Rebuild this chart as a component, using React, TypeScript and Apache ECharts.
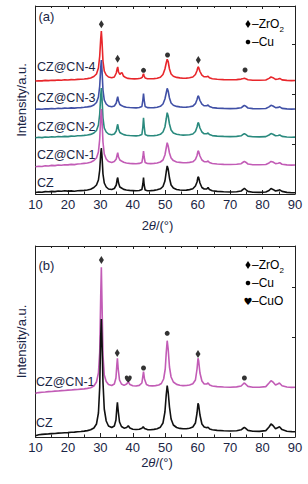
import React, { useEffect, useRef } from "react";
import * as echarts from "echarts";

// ---------- Panel (a) data: [2θ, intensity (a.u., offset stacked)] ----------
const czA: number[][] = [[10,1.5],[11,2],[12,1.8],[13,2.4],[14,2.2],[15,2.6],[16,2.4],[17,3],[18,2.8],[19,3.2],[20,2.9],[21,3.1],[22,2.8],[23,3.2],[24,3.4],[25,3.6],[26,4],[27,4.8],[28,6.5],[28.8,9],[29.4,14],[29.8,24],[30.1,40],[30.3,46],[30.5,38],[30.8,20],[31.2,11],[31.8,7],[32.5,5],[33.5,4.5],[34.3,5.5],[34.9,9],[35.2,15],[35.35,16.5],[35.6,11],[36,7],[36.5,6],[37.2,4.6],[38,4],[39,3.6],[40,3.4],[41,3.2],[42,3.5],[42.8,4.5],[43.1,10],[43.3,16.5],[43.5,9],[43.8,4],[44.5,3.3],[45.5,3.4],[46.5,3.6],[47.5,4.2],[48.5,5.2],[49.3,7.5],[49.9,13],[50.3,22],[50.6,28],[50.9,25],[51.3,16],[51.8,9],[52.5,6],[53.5,4.5],[54.5,4],[55.5,3.7],[56.5,3.9],[57.5,4.4],[58.5,5.2],[59.3,8],[59.8,12],[60.1,17],[60.3,16.5],[60.7,11],[61.3,6.5],[62,5],[62.8,5],[63.2,6.5],[63.6,4.5],[64.5,3.3],[66,2.6],[68,2.2],[70,2],[72,2.3],[73.4,3],[74.1,4.8],[74.4,5.8],[74.8,4.5],[75.5,2.6],[77,1.8],[79,1.6],[81,2],[82,3.5],[82.6,5.5],[83.2,4.6],[84,3],[84.8,3.6],[85.3,4.2],[86,2.6],[87.5,1.6],[89,1.3],[90,1.2]];
const cn1A: number[][] = [[10,27.3],[11,27.8],[12,27.5],[13,28.2],[14,28],[15,28.6],[16,28.4],[17,29],[18,28.8],[19,29.3],[20,29.1],[21,29.6],[22,29.4],[23,30],[24,30.2],[25,30.6],[26,31],[27,31.8],[28,33.5],[28.8,36],[29.4,42],[29.8,55],[30.1,76],[30.3,85],[30.5,74],[30.8,52],[31.2,40],[31.8,35],[32.5,32.5],[33.5,31.6],[34.3,32.4],[34.9,35],[35.2,39.5],[35.35,41.3],[35.6,37],[36,34],[36.5,33],[37.2,31.8],[38,31],[39,30.6],[40,30.4],[41,30.2],[42,30.6],[42.8,31.6],[43.1,37],[43.3,43],[43.5,37],[43.8,31.5],[44.5,30.5],[45.5,30.4],[46.5,30.6],[47.5,31],[48.5,32],[49.3,34],[49.9,39],[50.3,46],[50.6,51.3],[50.9,48],[51.3,41],[51.8,36],[52.5,33.4],[53.5,32],[54.5,31.6],[55.5,31.2],[56.5,31.3],[57.5,31.6],[58.5,32.2],[59.3,34.5],[59.8,38.5],[60.1,43],[60.3,42.5],[60.7,38],[61.3,34],[62,32.3],[62.8,32.2],[63.2,33],[63.6,31.5],[64.5,30.5],[66,30],[68,29.6],[70,29.5],[72,29.7],[73.4,30.3],[74.1,32],[74.4,32.6],[74.8,31.8],[75.5,30],[77,29.3],[79,29.2],[81,29.5],[82,31],[82.6,32.6],[83.2,32],[84,30.4],[84.8,30.8],[85.3,31.2],[86,29.8],[87.5,29.1],[89,28.9],[90,29]];
const cn2A: number[][] = [[10,56.3],[11,56.7],[12,56.4],[13,57],[14,56.8],[15,57.2],[16,57],[17,57.5],[18,57.3],[19,57.6],[20,57.4],[21,57.9],[22,57.7],[23,58.2],[24,58.3],[25,58.6],[26,59],[27,59.6],[28,61],[28.8,63.5],[29.4,69],[29.8,80],[30.1,98],[30.3,106],[30.5,96],[30.8,76],[31.2,66],[31.8,62],[32.5,60],[33.5,59.2],[34.3,60],[34.9,63],[35.2,68],[35.35,69.7],[35.6,65],[36,61.5],[36.5,60.5],[37.2,59.4],[38,58.8],[39,58.5],[40,58.3],[41,58.1],[42,58.5],[42.8,59.5],[43.1,67],[43.3,76.3],[43.5,68],[43.8,59.5],[44.5,58.4],[45.5,58.2],[46.5,58.4],[47.5,58.8],[48.5,59.7],[49.3,62],[49.9,67],[50.3,75],[50.6,81.3],[50.9,78],[51.3,70],[51.8,64],[52.5,61],[53.5,59.8],[54.5,59.2],[55.5,58.9],[56.5,59],[57.5,59.3],[58.5,60],[59.3,62.5],[59.8,67],[60.1,71.3],[60.3,70.8],[60.7,66],[61.3,62],[62,60.2],[62.8,60.2],[63.2,61],[63.6,59.4],[64.5,58.4],[66,57.9],[68,57.6],[70,57.4],[72,57.6],[73.4,58.2],[74.1,59.8],[74.4,60.4],[74.8,59.6],[75.5,57.9],[77,57.3],[79,57.1],[81,57.4],[82,59],[82.6,60.4],[83.2,59.8],[84,58.2],[84.8,58.5],[85.3,59],[86,57.6],[87.5,57],[89,56.8],[90,56.9]];
const cn3A: number[][] = [[10,84.7],[11,85],[12,84.8],[13,85.3],[14,85.1],[15,85.5],[16,85.3],[17,85.7],[18,85.5],[19,85.9],[20,85.7],[21,86.1],[22,85.9],[23,86.3],[24,86.4],[25,86.7],[26,87.1],[27,87.6],[28,89],[28.8,91.5],[29.4,97],[29.8,108],[30.1,126],[30.3,134],[30.5,124],[30.8,104],[31.2,94],[31.8,90],[32.5,88],[33.5,87.2],[34.3,88],[34.9,91],[35.2,95.5],[35.35,97.3],[35.6,93],[36,89.5],[36.5,88.5],[37.2,87.4],[38,86.8],[39,86.5],[40,86.3],[41,86.1],[42,86.5],[42.8,87.5],[43.1,94],[43.3,100.3],[43.5,94],[43.8,87.5],[44.5,86.4],[45.5,86.2],[46.5,86.4],[47.5,86.8],[48.5,87.7],[49.3,90],[49.9,95],[50.3,101],[50.6,105.7],[50.9,103],[51.3,96],[51.8,91],[52.5,88.8],[53.5,87.6],[54.5,87.1],[55.5,86.8],[56.5,86.9],[57.5,87.2],[58.5,87.9],[59.3,90.3],[59.8,94.5],[60.1,98],[60.3,97.5],[60.7,93.5],[61.3,89.8],[62,88.2],[62.8,88.2],[63.2,89],[63.6,87.4],[64.5,86.4],[66,85.9],[68,85.6],[70,85.4],[72,85.6],[73.4,86.2],[74.1,88],[74.4,88.7],[74.8,87.8],[75.5,86],[77,85.4],[79,85.2],[81,85.5],[82,87.1],[82.6,88.7],[83.2,88],[84,86.3],[84.8,86.6],[85.3,87.2],[86,85.6],[87.5,85.1],[89,84.9],[90,85]];
const cn4A: number[][] = [[10,113],[11,113.3],[12,113.1],[13,113.6],[14,113.4],[15,113.8],[16,113.6],[17,114],[18,113.8],[19,114.2],[20,114],[21,114.4],[22,114.2],[23,114.6],[24,114.7],[25,115],[26,115.4],[27,116],[28,117.5],[28.8,120],[29.4,126],[29.8,138],[30.1,155],[30.3,163],[30.5,153],[30.8,133],[31.2,123],[31.8,119],[32.5,117],[33.5,116.2],[34.3,117],[34.9,121],[35.2,125.5],[35.35,127],[35.6,122],[36,119.5],[36.4,121],[36.7,121.3],[37.1,118],[37.8,116.4],[38.5,115.6],[39.5,115.3],[40.5,115.1],[41.5,115.2],[42.4,115.7],[42.9,116.6],[43.15,119],[43.3,120.3],[43.5,118],[43.8,116],[44.5,115.3],[45.5,115.2],[46.5,115.4],[47.5,115.8],[48.5,116.8],[49.3,119.5],[49.9,125],[50.3,131],[50.6,134.7],[50.9,132.5],[51.3,125],[51.8,120],[52.5,117.8],[53.5,116.6],[54.5,116.1],[55.5,115.8],[56.5,115.9],[57.5,116.2],[58.5,117],[59.3,119.5],[59.8,123.5],[60.1,127],[60.3,126.5],[60.7,122.5],[61.3,118.8],[62,117.2],[62.8,117.2],[63.2,117.8],[63.6,116.3],[64.5,115.3],[66,114.7],[68,114.4],[70,114.2],[72,114.4],[73.4,114.9],[74.1,115.5],[74.4,115.8],[74.8,115.3],[75.5,114.3],[77,113.8],[79,113.7],[81,114],[82,115.6],[82.6,117],[83.2,116.3],[84,114.6],[84.8,115],[85.3,115.6],[86,114.1],[87.5,113.6],[89,113.4],[90,113.5]];

// ---------- Panel (b) data ----------
const czB: number[][] = [[10,1.2],[10.5,1.8],[11,2.2],[12,2.6],[13,2.9],[14,3.1],[15,3.4],[16,3.5],[17,3.9],[18,4],[19,4.3],[20,4.4],[21,4.8],[22,4.9],[23,5.3],[24,5.5],[25,5.9],[26,6.4],[27,7.2],[28,9],[28.8,13],[29.4,24],[29.8,50],[30.1,100],[30.3,118],[30.5,96],[30.8,55],[31.2,28],[31.8,16],[32.5,11],[33.5,9.5],[34.3,11],[34.8,17],[35.1,30],[35.25,34.7],[35.5,26],[35.9,15],[36.5,10.5],[37.3,8.8],[38.1,9.5],[38.6,11.3],[39.1,9],[40,7.8],[41,7.5],[42,7.8],[42.8,8.8],[43.2,10.3],[43.6,8.5],[44.5,7.4],[45.5,7.3],[46.5,7.6],[47.5,8.3],[48.5,9.8],[49.3,14],[49.9,25],[50.3,42],[50.6,51.3],[50.9,45],[51.3,30],[51.8,18],[52.5,12],[53.5,9.5],[54.5,8.6],[55.5,8.2],[56.5,8.3],[57.5,8.8],[58.5,10],[59.3,14],[59.8,24],[60.1,33.7],[60.3,32],[60.7,22],[61.3,13],[62,10],[62.8,9.2],[63.2,9.8],[63.7,8],[64.5,7.2],[66,6.6],[68,6.2],[70,6],[72,6.3],[73.4,7.2],[74.1,9],[74.4,9.7],[74.8,8.6],[75.5,6.6],[77,5.8],[79,5.6],[81,6.4],[82,10],[82.6,13],[83.2,11.5],[84,8.2],[84.8,9.4],[85.2,10.3],[86,7.4],[87.5,5.8],[89,5.4],[90,5.3]];
const cn1B: number[][] = [[10,43.5],[10.5,44.2],[11,44.4],[12,44.8],[13,45],[14,45.4],[15,45.5],[16,45.9],[17,46],[18,46.4],[19,46.5],[20,46.9],[21,47],[22,47.4],[23,47.5],[24,47.9],[25,48.1],[26,48.6],[27,49.3],[28,51],[28.8,55],[29.4,64],[29.8,85],[30.1,140],[30.3,169.7],[30.5,135],[30.8,82],[31.2,62],[31.8,55.5],[32.5,52.5],[33.5,51.5],[34.3,53],[34.8,59],[35.1,73],[35.25,78.7],[35.5,68],[35.9,57],[36.5,53],[37.3,51.6],[38.1,53],[38.6,55.3],[39.1,52.5],[40,51.2],[41,51],[42,51.6],[42.8,54],[43.1,61],[43.3,65.3],[43.6,58],[44.2,52.5],[45,51.3],[46,51.1],[47,51.4],[48,52],[48.8,53.5],[49.5,58],[50,68],[50.3,84],[50.6,96.3],[50.9,88],[51.3,70],[51.8,60],[52.5,55],[53.5,52.6],[54.5,51.8],[55.5,51.4],[56.5,51.5],[57.5,52],[58.5,53.2],[59.3,57],[59.8,68],[60.1,78.7],[60.3,76],[60.7,64],[61.3,56],[62,53],[62.8,53],[63.2,54],[63.7,52],[64.5,51],[66,50.4],[68,50],[70,49.8],[72,50.1],[73.4,51],[74.1,53.3],[74.4,54],[74.8,52.8],[75.5,50.6],[77,49.8],[79,49.7],[81,50.4],[82,54],[82.6,56.3],[83.2,55],[84,52],[84.8,53.3],[85.2,54],[86,51.3],[87.5,50],[89,49.6],[90,49.7]];

// ---------- Phase markers ----------
const zro2A: number[][] = [[30.3,169.7],[35.3,135.3],[60.2,134]];
const cuA: number[][] = [[43.3,123.7],[50.7,139],[74.6,124]];
const zro2B: number[][] = [[30.3,177],[35.2,84],[60.1,83]];
const cuB: number[][] = [[43.3,69],[50.6,103.7],[74.4,59]];
const cuoB: number[][] = [[38.6,58]];

const labelsA = ["CZ@CN-4", "CZ@CN-3", "CZ@CN-2", "CZ@CN-1", "CZ"];
const labelsB = ["CZ@CN-1", "CZ"];

const TXT = "#1a2545";
const FONT = "Liberation Sans, Arial, sans-serif";
const HEART = "path://M12 21C12 21 2 14.5 2 8.2C2 5 4.4 3 7 3C9.2 3 11 4.4 12 6.2C13 4.4 14.8 3 17 3C19.6 3 22 5 22 8.2C22 14.5 12 21 12 21Z";

export default function App() {
  const ref = useRef<HTMLDivElement>(null);
  useEffect(() => {
    if (!ref.current) return;
    const chart = echarts.init(ref.current, null, { renderer: "svg" });

    const bottomX = (gi: number) => ({
      type: "value", gridIndex: gi, min: 10, max: 90, interval: 10, position: "bottom",
      axisLine: { show: true, onZero: false, lineStyle: { color: "#222", width: 1 } },
      axisTick: { show: true, inside: true, length: 4, lineStyle: { color: "#222" } },
      minorTick: { show: true, splitNumber: 2, length: 2.5, lineStyle: { color: "#222" } },
      axisLabel: { show: true, color: TXT, fontSize: 13, fontFamily: FONT, margin: 4 },
      splitLine: { show: false },
    });
    const topX = (gi: number) => ({
      type: "value", gridIndex: gi, min: 10, max: 90, interval: 10, position: "top",
      axisLine: { show: true, onZero: false, lineStyle: { color: "#222", width: 1 } },
      axisTick: { show: true, inside: true, length: 3, lineStyle: { color: "#222" } },
      minorTick: { show: true, splitNumber: 2, length: 2, lineStyle: { color: "#222" } },
      axisLabel: { show: false },
      splitLine: { show: false },
    });
    const leftY = (gi: number, max: number) => ({
      type: "value", gridIndex: gi, min: 0, max,
      name: "Intensity/a.u.", nameLocation: "middle", nameGap: 8, nameRotate: 90,
      nameTextStyle: { color: TXT, fontSize: 13, fontFamily: FONT },
      axisLine: { show: true, lineStyle: { color: "#222", width: 1 } },
      axisTick: { show: false }, axisLabel: { show: false }, splitLine: { show: false },
    });
    const rightY = (gi: number, max: number) => ({
      type: "value", gridIndex: gi, min: 0, max, position: "right", splitNumber: 4,
      axisLine: { show: true, lineStyle: { color: "#222", width: 1 } },
      axisTick: { show: true, inside: true, length: 3, lineStyle: { color: "#222" } },
      axisLabel: { show: false }, splitLine: { show: false },
    });

    const line = (data: number[][], color: string, xi: number, yi: number) => ({
      type: "line", data, xAxisIndex: xi, yAxisIndex: yi, showSymbol: false, smooth: false,
      lineStyle: { color, width: 1.6 }, itemStyle: { color }, silent: true,
    });
    const marks = (data: number[][], symbol: string, size: any, xi: number, yi: number) => ({
      type: "scatter", data, xAxisIndex: xi, yAxisIndex: yi, symbol, symbolSize: size,
      itemStyle: { color: "#000" }, z: 5, silent: true,
    });

    const textEl = (text: string, x: number, y: number, fontSize = 12.5, extra: any = {}) => ({
      type: "text", x, y, silent: true,
      style: { text, fill: TXT, fontSize, fontFamily: FONT, verticalAlign: "middle", align: "left", ...extra },
    });
    const blk = (text: string, x: number, y: number, fontSize = 12, extra: any = {}) => ({
      type: "text", x, y, silent: true,
      style: { text, fill: "#000", fontSize, fontFamily: FONT, verticalAlign: "middle", align: "left", ...extra },
    });
    const diamond = (x: number, y: number) => ({
      type: "polygon", silent: true,
      shape: { points: [[x, y - 4], [x + 2.6, y], [x, y + 4], [x - 2.6, y]] },
      style: { fill: "#000" },
    });
    const dot = (x: number, y: number) => ({
      type: "circle", silent: true, shape: { cx: x, cy: y, r: 2.3 }, style: { fill: "#000" },
    });

    const labelYA = [66.7, 98.3, 126.7, 155, 183.3];
    const labelYB = [381.7, 423.3];

    const graphic: any[] = [
      textEl("(a)", 38.5, 16, 13),
      textEl("(b)", 38.5, 265, 13),
      ...labelsA.map((t, i) => textEl(t, 37, labelYA[i])),
      ...labelsB.map((t, i) => textEl(t, 36, labelYB[i])),
      { type: "text", x: 157.5, y: 225, silent: true,
        style: { text: "2{i|θ}/(°)", fill: TXT, fontSize: 13, fontFamily: FONT, align: "center", verticalAlign: "middle",
          rich: { i: { fontStyle: "italic", fontSize: 13, fontFamily: FONT, fill: TXT } } } },
      { type: "text", x: 157, y: 462, silent: true,
        style: { text: "2{i|θ}/(°)", fill: TXT, fontSize: 13, fontFamily: FONT, align: "center", verticalAlign: "middle",
          rich: { i: { fontStyle: "italic", fontSize: 13, fontFamily: FONT, fill: TXT } } } },
      // legend (a)
      diamond(248, 24), blk("–ZrO", 252, 24), blk("2", 279.5, 29, 8),
      dot(248, 42), blk("–Cu", 252, 42),
      // legend (b)
      diamond(248, 265), blk("–ZrO", 252, 265), blk("2", 279.5, 270, 8),
      dot(248, 283), blk("–Cu", 252, 283),
      blk("♥", 248, 301.5, 10, { align: "center", fontFamily: "DejaVu Sans" }), blk("–CuO", 252, 301),
    ];

    chart.setOption({
      animation: false,
      backgroundColor: "#fff",
      grid: [
        { left: 35.5, top: 6, width: 259.5, height: 188, show: false },
        { left: 35.5, top: 246, width: 259.5, height: 191, show: false },
      ],
      xAxis: [bottomX(0), bottomX(1), topX(0), topX(1)],
      yAxis: [leftY(0, 188), leftY(1, 191), rightY(0, 188), rightY(1, 191)],
      series: [
        line(cn4A, "#e8262b", 0, 0),
        line(cn3A, "#4050a6", 0, 0),
        line(cn2A, "#2a8a7e", 0, 0),
        line(cn1A, "#c25cb6", 0, 0),
        line(czA, "#111111", 0, 0),
        marks(zro2A, "diamond", [5, 8], 0, 0),
        marks(cuA, "circle", 5, 0, 0),
        line(cn1B, "#c25cb6", 1, 1),
        line(czB, "#111111", 1, 1),
        marks(zro2B, "diamond", [5, 8], 1, 1),
        marks(cuB, "circle", 5, 1, 1),
        marks(cuoB, HEART, 7, 1, 1),
      ],
      graphic,
    });
    return () => chart.dispose();
  }, []);
  return (
    <div
      ref={ref}
      style={{ position: "fixed", left: 0, top: 0, width: 308, height: 484, background: "#fff" }}
    />
  );
}
